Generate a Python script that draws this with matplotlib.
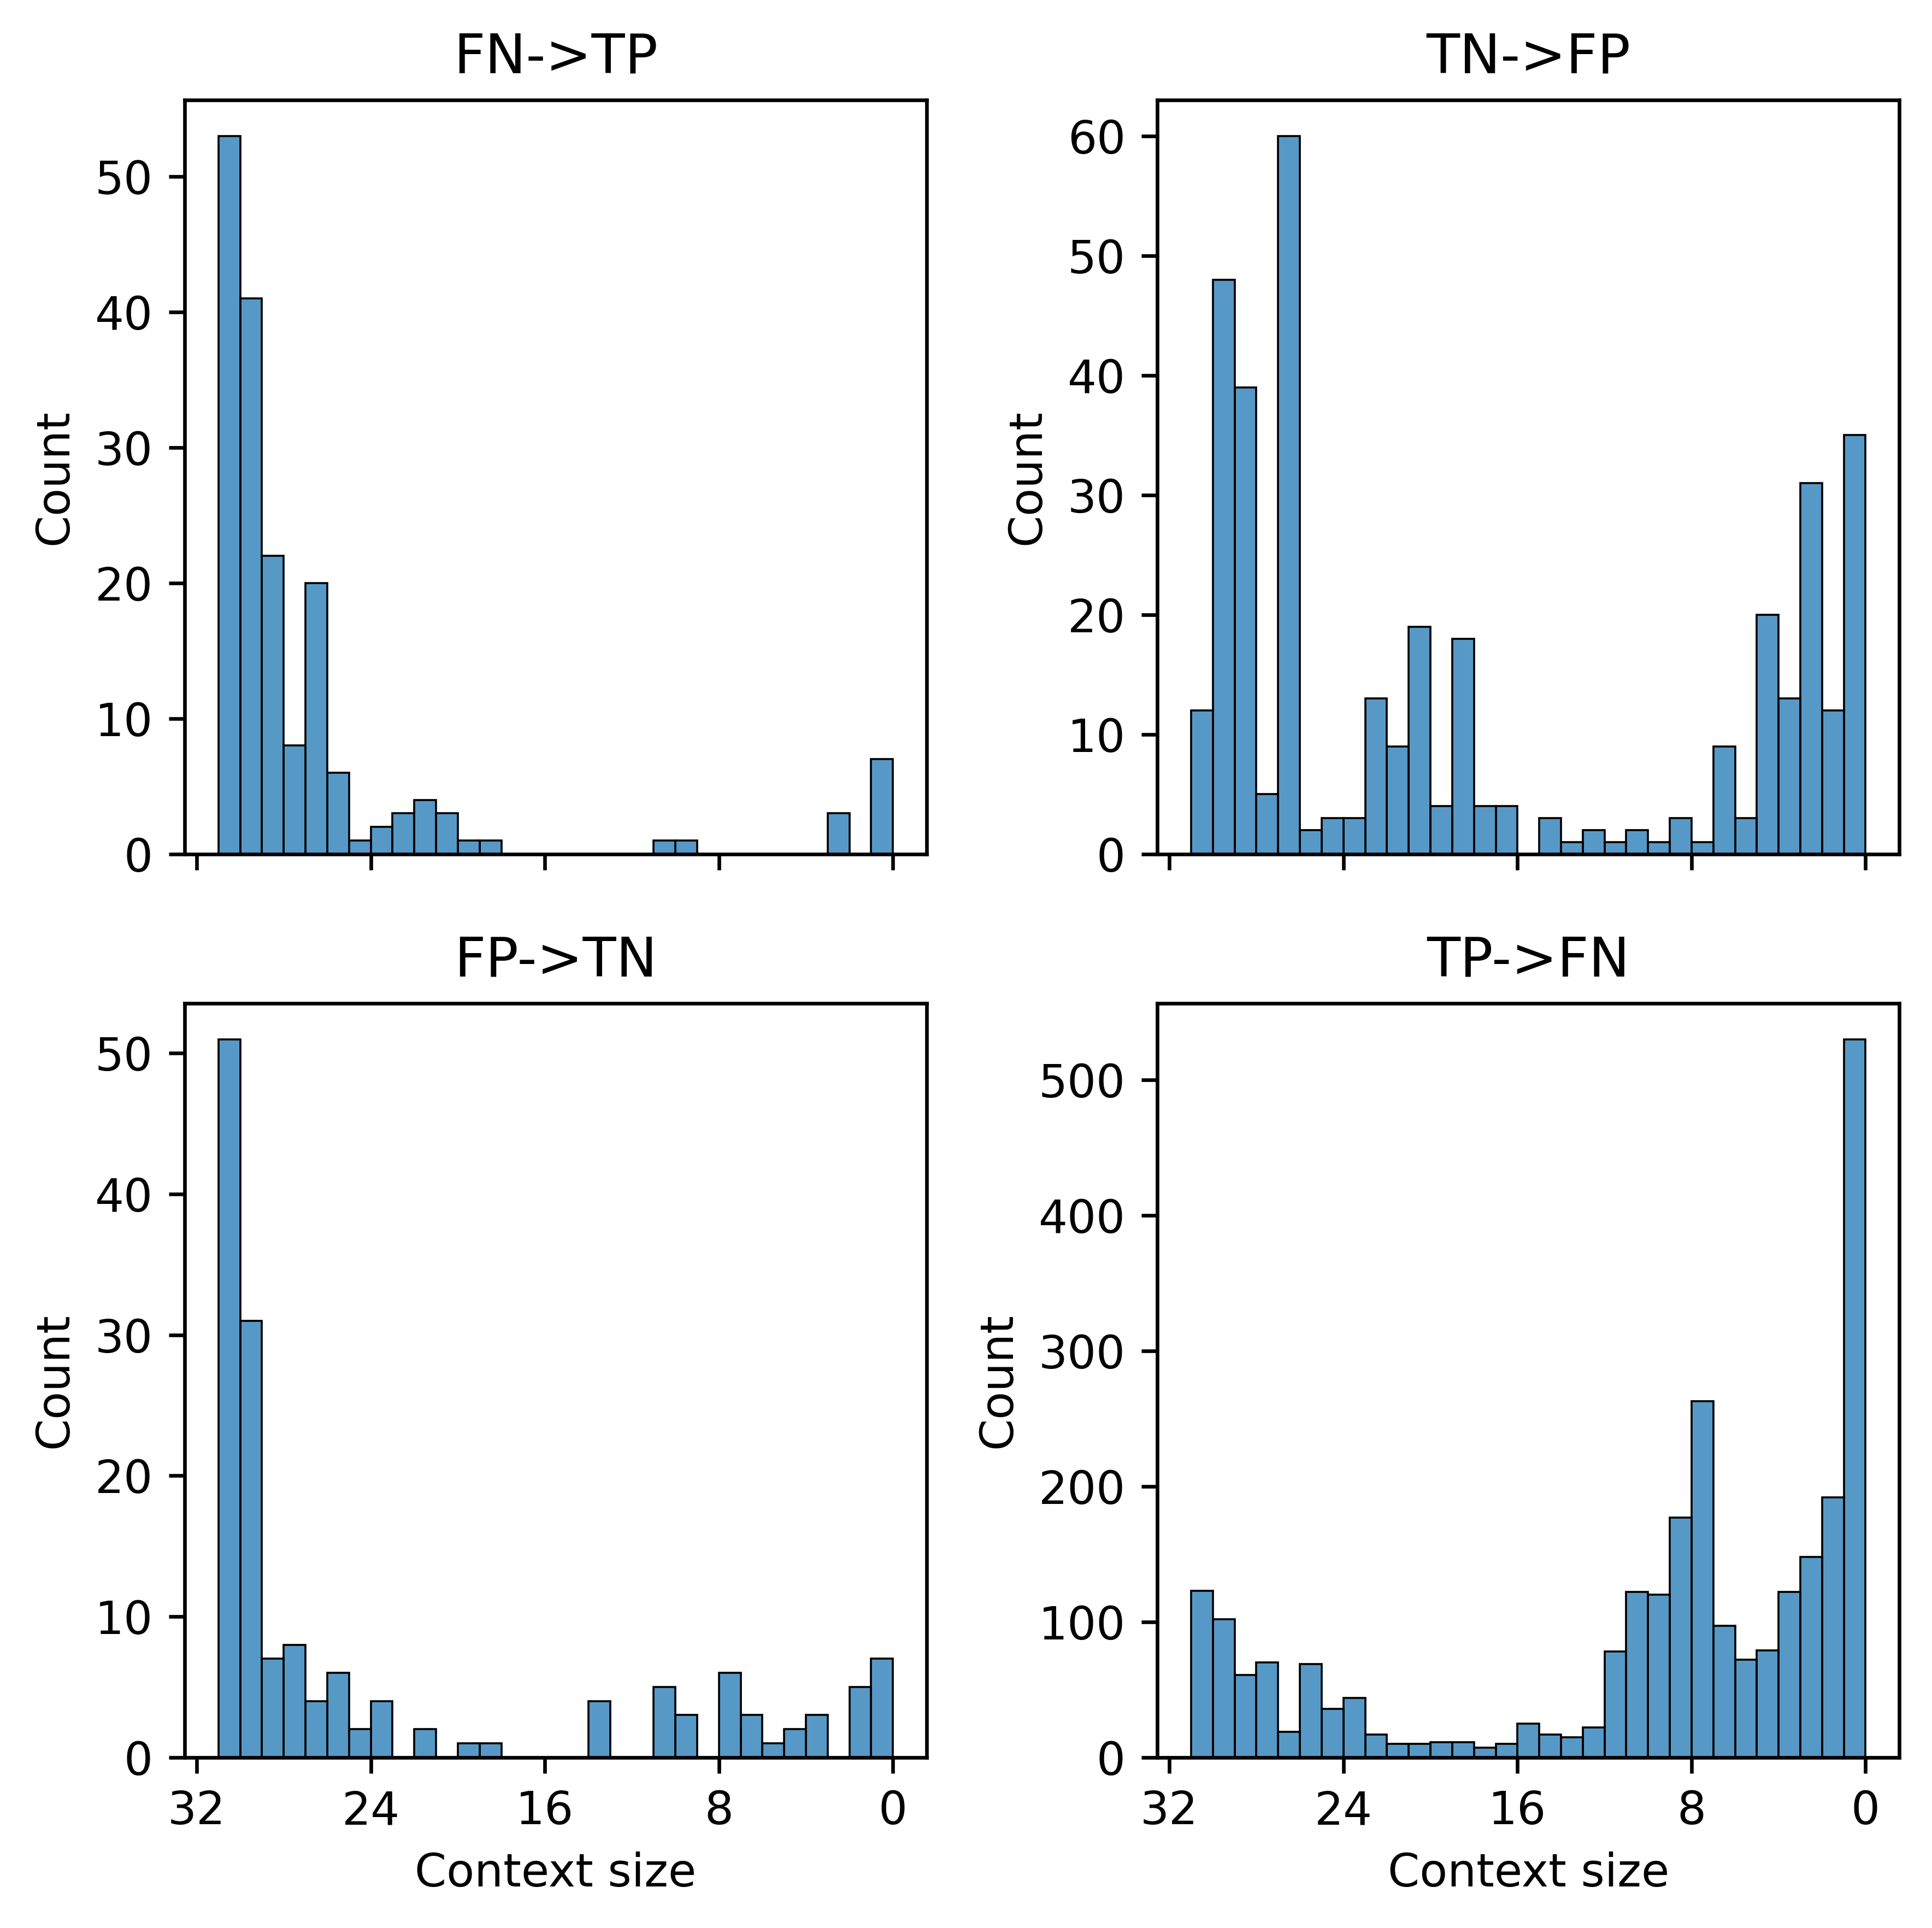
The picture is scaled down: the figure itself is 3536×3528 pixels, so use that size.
import numpy as np
import pandas as pd
import matplotlib
matplotlib.use("Agg")
import matplotlib.pyplot as plt
import seaborn as sns

# counts per unit-wide context-size bin, listed from bin [30,31] down to bin [0,1]
fn_tp = [53, 41, 22, 8, 20, 6, 1, 2, 3, 4, 3, 1, 1, 0, 0, 0, 0, 0, 0, 0,
         1, 1, 0, 0, 0, 0, 0, 0, 3, 0, 7]
tn_fp = [12, 48, 39, 5, 60, 2, 3, 3, 13, 9, 19, 4, 18, 4, 4, 0, 3, 1, 2, 1,
         2, 1, 3, 1, 9, 3, 20, 13, 31, 12, 35]
fp_tn = [51, 31, 7, 8, 4, 6, 2, 4, 0, 2, 0, 1, 1, 0, 0, 0, 0, 4, 0, 0,
         5, 3, 0, 6, 3, 1, 2, 3, 0, 5, 7]
tp_fn = [123, 102, 61, 70, 19, 69, 36, 44, 17, 10, 10, 11, 11, 7, 10, 25, 17, 15, 22, 78,
         122, 120, 177, 263, 97, 72, 79, 122, 148, 192, 530]

titles = ['FN->TP', 'TN->FP', 'FP->TN', 'TP->FN']
series = [fn_tp, tn_fp, fp_tn, tp_fn]

centers = np.arange(30, -1, -1) + 0.5  # matches list order (31 bins)

fig, axes = plt.subplots(2, 2, figsize=(3537 / 600, 3528 / 600), sharex=True)
axes = axes.flatten()

for ax, title, counts in zip(axes, titles, series):
    df = pd.DataFrame({'ctx': centers, 'n': counts})
    sns.histplot(data=df, x='ctx', weights='n', bins=31, binrange=(0, 31), ax=ax)
    ax.set_title(title)
    ax.set_xlabel('')
    ax.set_ylabel('Count')

axes[0].set_xticks([32, 24, 16, 8, 0])
axes[0].invert_xaxis()
for ax in axes[2:]:
    ax.set_xlabel('Context size')

plt.subplots_adjust(left=0.0956, right=0.9828, top=0.9481, bottom=0.0885,
                    wspace=0.311, hspace=0.198)
plt.savefig('out.png', dpi=600)
